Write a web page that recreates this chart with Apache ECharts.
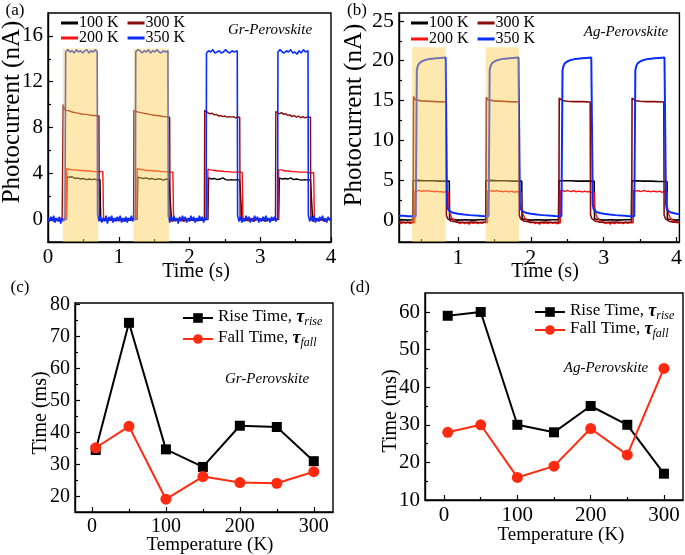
<!DOCTYPE html>
<html><head><meta charset="utf-8">
<script src="https://cdn.jsdelivr.net/npm/echarts@6/dist/echarts.min.js"></script>
<style>html,body{margin:0;padding:0;background:#fff}#c{width:685px;height:555px}</style>
</head><body><div id="c"></div>
<script>
// ---------- DATA ----------
// Panel (c): Gr-Perovskite rise / fall times
const tempsC = [5, 50, 100, 150, 200, 250, 300];
const riseC  = [34.5, 74.3, 34.7, 29.2, 42.1, 41.7, 31.0];
const fallC  = [35.2, 41.9, 19.1, 26.2, 24.3, 24.1, 27.7];
// Panel (d): Ag-Perovskite rise / fall times
const tempsD = [5, 50, 100, 150, 200, 250, 300];
const riseD  = [59, 60, 30, 28, 35, 30, 17];
const fallD  = [28, 30, 16, 19, 29, 22, 45];

// tick labels
const ticksAx = [0, 1, 2, 3, 4], minorAx = [0.5, 1.5, 2.5, 3.5];
const ticksAy = [0, 4, 8, 12, 16], minorAy = [2, 6, 10, 14];
const ticksBx = [1, 2, 3, 4], minorBx = [0.5, 1.5, 2.5, 3.5];
const ticksBy = [0, 5, 10, 15, 20, 25], minorBy = [2.5, 7.5, 12.5, 17.5, 22.5];
const ticksCx = [0, 100, 200, 300], minorCx = [50, 150, 250];
const ticksCy = [20, 30, 40, 50, 60, 70, 80], minorCy = [25, 35, 45, 55, 65, 75];
const ticksDx = [0, 100, 200, 300], minorDx = [50, 150, 250];
const ticksDy = [10, 20, 30, 40, 50, 60], minorDy = [15, 25, 35, 45, 55];

// light-on (shaded) windows [start, end, yBottom, yTop]
const shadeA = [[0.21, 0.71, -2, 14.9], [1.21, 1.71, -2, 14.9]];
const shadeB = [[0.37, 0.83, -2.8, 21.7], [1.38, 1.84, -2.8, 21.7]];

// Panel (a) photocurrent traces [time s, current nA]
const a100 = [
[0.00,0.0],[0.05,-0.1],[0.10,0.05],[0.15,-0.1],[0.20,0.0],[0.26,-0.05],
[0.27,3.7],[0.30,3.65],[0.34,3.7],[0.38,3.55],[0.42,3.6],[0.46,3.5],[0.50,3.55],[0.54,3.45],[0.58,3.5],[0.62,3.45],[0.66,3.5],[0.70,3.4],[0.735,3.45],
[0.745,0.0],[0.80,-0.1],[0.85,0.0],[0.90,-0.1],[0.95,0.05],[1.00,-0.05],[1.05,-0.1],[1.10,0.0],[1.15,-0.1],[1.20,0.0],[1.26,-0.05],
[1.27,3.65],[1.31,3.6],[1.35,3.55],[1.39,3.6],[1.43,3.5],[1.47,3.55],[1.51,3.45],[1.55,3.5],[1.59,3.5],[1.63,3.4],[1.67,3.5],[1.71,3.45],[1.735,3.45],
[1.745,0.0],[1.80,-0.1],[1.85,0.0],[1.90,-0.05],[1.95,-0.1],[2.00,0.0],[2.05,-0.1],[2.10,0.0],[2.15,-0.1],[2.20,0.0],[2.26,-0.05],
[2.27,3.6],[2.31,3.5],[2.35,3.55],[2.39,3.45],[2.43,3.5],[2.47,3.6],[2.51,3.45],[2.55,3.4],[2.59,3.45],[2.63,3.4],[2.67,3.45],[2.71,3.4],[2.73,3.4],
[2.74,0.0],[2.80,-0.1],[2.85,0.0],[2.90,-0.1],[2.95,0.0],[3.00,-0.05],[3.05,-0.1],[3.10,0.0],[3.15,-0.1],[3.20,0.0],[3.26,-0.05],
[3.27,3.6],[3.31,3.5],[3.35,3.55],[3.39,3.5],[3.43,3.6],[3.47,3.45],[3.51,3.5],[3.55,3.45],[3.59,3.4],[3.63,3.45],[3.67,3.4],[3.71,3.45],[3.73,3.4],
[3.74,0.0],[3.80,-0.1],[3.85,0.0],[3.90,-0.1],[3.95,0.0],[4.00,-0.05]];
const a200 = [
[0.00,0.0],[0.06,0.1],[0.12,-0.05],[0.18,0.05],[0.26,0.0],
[0.265,4.4],[0.30,4.35],[0.35,4.3],[0.40,4.3],[0.45,4.25],[0.50,4.25],[0.55,4.2],[0.60,4.2],[0.65,4.15],[0.70,4.15],[0.775,4.15],
[0.785,0.1],[0.82,-0.05],[0.88,0.05],[0.94,-0.05],[1.00,0.05],[1.06,0.0],[1.12,0.05],[1.18,-0.05],[1.255,0.0],
[1.26,4.4],[1.30,4.35],[1.35,4.3],[1.40,4.25],[1.45,4.25],[1.50,4.2],[1.55,4.2],[1.60,4.15],[1.65,4.15],[1.70,4.1],[1.765,4.1],
[1.775,0.1],[1.82,-0.05],[1.88,0.05],[1.94,-0.05],[2.00,0.05],[2.06,0.0],[2.12,0.05],[2.18,-0.05],[2.255,0.0],
[2.26,4.35],[2.30,4.3],[2.35,4.25],[2.40,4.2],[2.45,4.2],[2.50,4.15],[2.55,4.15],[2.60,4.1],[2.65,4.1],[2.70,4.1],[2.745,4.1],
[2.755,0.1],[2.80,-0.05],[2.86,0.05],[2.92,-0.05],[2.98,0.05],[3.04,0.0],[3.10,0.05],[3.16,-0.05],[3.255,0.0],
[3.26,4.3],[3.30,4.3],[3.35,4.2],[3.40,4.2],[3.45,4.15],[3.50,4.15],[3.55,4.1],[3.60,4.1],[3.65,4.1],[3.70,4.05],[3.755,4.05],
[3.765,0.1],[3.80,-0.05],[3.86,0.05],[3.92,-0.05],[4.00,0.0]];
const a300 = [
[0.00,-0.1],[0.04,0.1],[0.08,-0.2],[0.12,0.0],[0.16,-0.15],[0.20,0.05],[0.21,-0.1],
[0.215,10.0],[0.23,9.6],[0.26,9.5],[0.30,9.45],[0.34,9.35],[0.38,9.3],[0.42,9.25],[0.46,9.2],[0.50,9.15],[0.54,9.15],[0.58,9.1],[0.62,9.05],[0.66,9.05],[0.72,9.0],
[0.725,0.0],[0.76,-0.2],[0.80,0.0],[0.84,-0.15],[0.88,-0.05],[0.92,-0.2],[0.96,0.0],[1.00,-0.15],[1.04,-0.05],[1.08,-0.2],[1.12,0.0],[1.16,-0.1],[1.21,-0.05],
[1.215,9.5],[1.23,9.4],[1.27,9.35],[1.31,9.3],[1.35,9.25],[1.39,9.2],[1.43,9.15],[1.47,9.1],[1.51,9.05],[1.55,9.05],[1.59,9.0],[1.63,8.95],[1.67,8.95],[1.72,8.9],
[1.725,0.0],[1.76,-0.2],[1.80,0.0],[1.84,-0.15],[1.88,-0.05],[1.92,-0.2],[1.96,0.0],[2.00,-0.15],[2.04,-0.05],[2.08,-0.2],[2.12,0.0],[2.16,-0.1],[2.21,-0.05],
[2.215,9.5],[2.23,9.35],[2.26,9.3],[2.29,9.2],[2.32,9.25],[2.35,9.1],[2.38,9.15],[2.41,9.0],[2.44,9.05],[2.47,8.95],[2.50,9.0],[2.53,8.9],[2.56,8.95],[2.59,8.9],[2.62,8.95],[2.65,8.85],[2.68,8.9],[2.71,8.9],
[2.715,0.0],[2.75,-0.2],[2.79,0.0],[2.83,-0.15],[2.87,-0.05],[2.91,-0.2],[2.95,0.0],[2.99,-0.15],[3.03,-0.05],[3.07,-0.2],[3.11,0.0],[3.15,-0.1],[3.215,-0.05],
[3.22,9.4],[3.24,9.3],[3.27,9.2],[3.30,9.3],[3.33,9.15],[3.36,9.2],[3.39,9.05],[3.42,9.1],[3.45,8.95],[3.48,9.05],[3.51,8.9],[3.54,9.0],[3.57,8.85],[3.60,8.95],[3.63,8.85],[3.66,8.9],[3.71,8.9],
[3.715,0.0],[3.75,-0.2],[3.79,0.0],[3.83,-0.15],[3.87,-0.05],[3.91,-0.2],[3.95,0.0],[4.00,-0.1]];
const a350 = [
[0.00,0.1],[0.02,-0.2],[0.04,0.2],[0.06,-0.1],[0.08,0.3],[0.10,-0.3],[0.12,0.1],[0.14,-0.2],[0.16,0.2],[0.18,-0.4],[0.20,0.1],[0.22,-0.2],[0.24,0.2],
[0.25,14.6],[0.28,14.8],[0.31,14.6],[0.34,14.7],[0.37,14.5],[0.40,14.8],[0.43,14.6],[0.46,14.7],[0.49,14.5],[0.52,14.7],[0.55,14.8],[0.58,14.5],[0.61,14.7],[0.64,14.6],[0.67,14.8],[0.695,14.6],
[0.70,0.4],[0.72,-0.2],[0.74,0.3],[0.76,-0.3],[0.78,0.1],[0.80,-0.2],[0.82,0.3],[0.84,-0.4],[0.86,0.2],[0.88,-0.1],[0.90,0.3],[0.92,-0.3],[0.94,0.1],[0.96,-0.2],[0.98,0.2],[1.00,-0.1],[1.02,0.3],[1.04,-0.3],[1.06,0.1],[1.08,-0.2],[1.10,0.2],[1.12,-0.3],[1.14,0.1],[1.16,-0.1],[1.18,0.3],[1.20,-0.2],[1.22,0.1],[1.235,-0.1],
[1.24,14.6],[1.27,14.8],[1.30,14.7],[1.33,14.5],[1.36,14.7],[1.39,14.6],[1.42,14.8],[1.45,14.5],[1.48,14.7],[1.51,14.6],[1.54,14.8],[1.57,14.6],[1.60,14.5],[1.63,14.7],[1.66,14.6],[1.695,14.7],
[1.70,0.3],[1.72,-0.3],[1.74,0.2],[1.76,-0.1],[1.78,0.3],[1.80,-0.2],[1.82,0.1],[1.84,-0.4],[1.86,0.2],[1.88,-0.2],[1.90,0.3],[1.92,-0.1],[1.94,0.2],[1.96,-0.3],[1.98,0.1],[2.00,-0.2],[2.02,0.3],[2.04,-0.1],[2.06,0.2],[2.08,-0.3],[2.10,0.1],[2.12,-0.2],[2.14,0.3],[2.16,-0.1],[2.18,0.2],[2.20,-0.3],[2.22,0.1],[2.235,-0.1],
[2.24,14.5],[2.27,14.7],[2.30,14.6],[2.33,14.8],[2.36,14.5],[2.39,14.6],[2.42,14.7],[2.45,14.5],[2.48,14.6],[2.51,14.8],[2.54,14.6],[2.57,14.5],[2.60,14.7],[2.63,14.6],[2.675,14.7],
[2.68,0.3],[2.70,-0.2],[2.72,0.2],[2.74,-0.3],[2.76,0.1],[2.78,-0.2],[2.80,0.3],[2.82,-0.1],[2.84,0.2],[2.86,-0.3],[2.88,0.1],[2.90,-0.2],[2.92,0.3],[2.94,-0.1],[2.96,0.2],[2.98,-0.3],[3.00,0.1],[3.02,-0.2],[3.04,0.2],[3.06,-0.1],[3.08,0.3],[3.10,-0.2],[3.12,0.1],[3.14,-0.3],[3.16,0.2],[3.18,-0.1],[3.20,0.2],[3.22,-0.2],[3.245,0.1],
[3.25,14.6],[3.28,14.8],[3.31,14.6],[3.34,14.5],[3.37,14.7],[3.40,14.6],[3.43,14.8],[3.46,14.5],[3.49,14.6],[3.52,14.4],[3.55,14.7],[3.58,14.5],[3.61,14.8],[3.64,14.6],[3.675,14.7],
[3.68,0.3],[3.70,-0.2],[3.72,0.2],[3.74,-0.1],[3.76,0.3],[3.78,-0.3],[3.80,0.1],[3.82,-0.2],[3.84,0.2],[3.86,-0.1],[3.88,0.3],[3.90,-0.2],[3.92,0.1],[3.94,-0.3],[3.96,0.2],[3.98,-0.1],[4.00,0.1]];

// Panel (b) photocurrent traces [time s, current nA]
const b100 = [
[0.19,-0.05],[0.25,0.0],[0.30,-0.05],[0.38,0.0],
[0.385,4.9],[0.45,4.95],[0.55,4.9],[0.65,4.9],[0.75,4.85],[0.88,4.85],
[0.885,0.1],[0.90,0.0],[1.0,-0.05],[1.1,0.0],[1.2,-0.05],[1.3,0.0],[1.38,0.0],
[1.385,4.9],[1.45,4.95],[1.55,4.9],[1.65,4.9],[1.75,4.85],[1.875,4.85],
[1.88,0.1],[1.9,0.0],[2.0,-0.05],[2.1,0.0],[2.2,-0.05],[2.3,0.0],[2.38,0.0],
[2.385,4.9],[2.45,4.9],[2.55,4.9],[2.65,4.85],[2.75,4.85],[2.87,4.85],
[2.875,0.1],[2.9,0.0],[3.0,-0.05],[3.1,0.0],[3.2,-0.05],[3.3,0.0],[3.38,0.0],
[3.385,4.85],[3.45,4.9],[3.55,4.85],[3.65,4.85],[3.75,4.8],[3.87,4.8],
[3.875,0.1],[3.9,0.0],[4.0,-0.05],[4.04,0.0]];
const b200 = [
[0.19,-0.3],[0.22,-0.5],[0.25,-0.3],[0.28,-0.45],[0.31,-0.25],[0.34,-0.5],[0.37,-0.35],[0.405,-0.4],
[0.41,3.7],[0.44,3.6],[0.47,3.7],[0.50,3.55],[0.53,3.65],[0.56,3.6],[0.59,3.7],[0.62,3.55],[0.65,3.6],[0.68,3.5],[0.71,3.6],[0.74,3.5],[0.77,3.55],[0.80,3.45],[0.83,3.55],[0.87,3.5],
[0.875,1.6],[0.89,0.8],[0.91,0.3],[0.94,0.0],[0.97,-0.2],[1.00,-0.35],[1.03,-0.5],[1.06,-0.3],[1.09,-0.5],[1.12,-0.35],[1.15,-0.55],[1.18,-0.3],[1.21,-0.45],[1.24,-0.3],[1.27,-0.5],[1.30,-0.35],[1.33,-0.45],[1.36,-0.3],[1.405,-0.4],
[1.41,3.7],[1.44,3.6],[1.47,3.65],[1.50,3.55],[1.53,3.7],[1.56,3.55],[1.59,3.6],[1.62,3.5],[1.65,3.6],[1.68,3.55],[1.71,3.5],[1.74,3.6],[1.77,3.45],[1.80,3.55],[1.83,3.5],[1.87,3.5],
[1.875,1.6],[1.89,0.8],[1.91,0.3],[1.94,0.0],[1.97,-0.2],[2.00,-0.4],[2.03,-0.3],[2.06,-0.5],[2.09,-0.35],[2.12,-0.55],[2.15,-0.3],[2.18,-0.45],[2.21,-0.35],[2.24,-0.5],[2.27,-0.3],[2.30,-0.45],[2.33,-0.35],[2.36,-0.5],[2.405,-0.4],
[2.41,3.7],[2.44,3.65],[2.47,3.55],[2.50,3.7],[2.53,3.6],[2.56,3.55],[2.59,3.65],[2.62,3.5],[2.65,3.6],[2.68,3.55],[2.71,3.5],[2.74,3.6],[2.77,3.5],[2.80,3.55],[2.83,3.45],[2.87,3.5],
[2.875,1.6],[2.89,0.8],[2.91,0.3],[2.94,0.0],[2.97,-0.2],[3.00,-0.35],[3.03,-0.5],[3.06,-0.3],[3.09,-0.55],[3.12,-0.35],[3.15,-0.5],[3.18,-0.3],[3.21,-0.45],[3.24,-0.35],[3.27,-0.5],[3.30,-0.3],[3.33,-0.45],[3.36,-0.35],[3.405,-0.4],
[3.41,3.7],[3.44,3.6],[3.47,3.65],[3.50,3.55],[3.53,3.6],[3.56,3.7],[3.59,3.55],[3.62,3.6],[3.65,3.5],[3.68,3.6],[3.71,3.55],[3.74,3.5],[3.77,3.6],[3.80,3.45],[3.83,3.55],[3.87,3.5],
[3.875,1.6],[3.89,0.8],[3.91,0.3],[3.94,0.0],[3.97,-0.2],[4.00,-0.35],[4.04,-0.4]];
const b300 = [
[0.19,-0.3],[0.30,-0.35],[0.385,-0.3],
[0.39,15.5],[0.41,15.1],[0.43,15.0],[0.50,14.95],[0.60,14.9],[0.70,14.85],[0.835,14.8],
[0.84,0.6],[0.86,0.1],[0.90,-0.15],[1.00,-0.3],[1.10,-0.35],[1.20,-0.3],[1.30,-0.35],[1.385,-0.3],
[1.39,15.4],[1.41,15.1],[1.43,15.0],[1.50,14.95],[1.60,14.9],[1.70,14.85],[1.835,14.8],
[1.84,0.6],[1.86,0.1],[1.90,-0.15],[2.00,-0.3],[2.10,-0.35],[2.20,-0.3],[2.30,-0.35],[2.385,-0.3],
[2.39,15.3],[2.41,15.05],[2.43,15.0],[2.50,14.9],[2.60,14.85],[2.70,14.85],[2.815,14.8],
[2.82,0.6],[2.84,0.1],[2.88,-0.15],[2.95,-0.3],[3.05,-0.35],[3.15,-0.3],[3.25,-0.35],[3.385,-0.3],
[3.39,15.3],[3.41,15.05],[3.43,15.0],[3.50,14.9],[3.60,14.85],[3.70,14.85],[3.825,14.8],
[3.83,0.6],[3.85,0.1],[3.89,-0.15],[3.95,-0.3],[4.04,-0.3]];
const b350 = [
[0.19,0.5],[0.25,0.5],[0.32,0.45],[0.42,0.45],
[0.435,18.8],[0.45,19.4],[0.47,19.7],[0.50,19.9],[0.55,20.1],[0.60,20.2],[0.65,20.25],[0.70,20.3],[0.76,20.35],[0.83,20.4],
[0.85,2.0],[0.86,1.4],[0.88,1.1],[0.91,0.95],[0.95,0.85],[1.00,0.75],[1.08,0.65],[1.16,0.58],[1.25,0.52],[1.33,0.48],[1.42,0.45],
[1.435,18.8],[1.45,19.4],[1.47,19.7],[1.50,19.9],[1.55,20.1],[1.60,20.2],[1.65,20.25],[1.70,20.3],[1.76,20.35],[1.83,20.4],
[1.85,2.0],[1.86,1.4],[1.88,1.1],[1.91,0.95],[1.95,0.85],[2.00,0.75],[2.08,0.65],[2.16,0.58],[2.25,0.52],[2.33,0.48],[2.42,0.45],
[2.435,18.8],[2.45,19.4],[2.47,19.7],[2.50,19.9],[2.55,20.1],[2.60,20.2],[2.65,20.25],[2.70,20.3],[2.76,20.35],[2.83,20.4],
[2.85,2.0],[2.86,1.4],[2.88,1.1],[2.91,0.95],[2.95,0.85],[3.00,0.75],[3.08,0.65],[3.16,0.58],[3.25,0.52],[3.33,0.48],[3.42,0.45],
[3.435,18.8],[3.45,19.4],[3.47,19.7],[3.50,19.9],[3.55,20.1],[3.60,20.2],[3.65,20.25],[3.70,20.3],[3.76,20.35],[3.835,20.4],
[3.855,2.0],[3.865,1.4],[3.885,1.1],[3.915,0.95],[3.955,0.85],[4.00,0.75],[4.04,0.7]];

// ---------- CHART ----------
const FF = '"Liberation Serif","Times New Roman",serif';
const chart = echarts.init(document.getElementById('c'), null, {renderer: 'canvas'});

const grids = [
  {left: 48, top: 13, width: 283, height: 229},
  {left: 399, top: 13, width: 284, height: 229},
  {left: 75, top: 303, width: 258, height: 209},
  {left: 425, top: 293, width: 258, height: 207}
].map(g => Object.assign(g, {show: true, borderColor: '#000', borderWidth: 1.4, backgroundColor: 'transparent', containLabel: false}));

const xAxes = [], yAxes = [];
function addAxes(list, gi, min, max, major, minor, fs, isY) {
  const base = {type: 'value', gridIndex: gi, min: min, max: max, splitLine: {show: false}};
  if (isY) base.position = 'left'; else base.position = 'bottom';
  list.push(Object.assign({}, base, {
    axisLine: {show: true, onZero: false, lineStyle: {color: '#000', width: 1.4}},
    axisTick: {show: true, inside: true, length: 5, customValues: major, lineStyle: {color: '#000', width: 1.2}},
    axisLabel: {show: true, customValues: major, color: '#000', fontFamily: FF, fontSize: fs, margin: isY ? 5 : 5}
  }));
  const idx = list.length - 1;
  list.push(Object.assign({}, base, {
    axisLine: {show: false, onZero: false},
    axisTick: {show: true, inside: true, length: 3, customValues: minor, lineStyle: {color: '#000', width: 1.2}},
    axisLabel: {show: false}
  }));
  return idx;
}
const xA = addAxes(xAxes, 0, 0, 4, ticksAx, minorAx, 21, false);
const yA = addAxes(yAxes, 0, -2, 18, ticksAy, minorAy, 21, true);
const xB = addAxes(xAxes, 1, 0.19, 4.04, ticksBx, minorBx, 22, false);
const yB = addAxes(yAxes, 1, -2.8, 26, ticksBy, minorBy, 22, true);
const xC = addAxes(xAxes, 2, -23, 326, ticksCx, minorCx, 20, false);
const yC = addAxes(yAxes, 2, 15.1, 80.5, ticksCy, minorCy, 20, true);
const xD = addAxes(xAxes, 3, -26, 326, ticksDx, minorDx, 21, false);
const yD = addAxes(yAxes, 3, 10, 65.05, ticksDy, minorDy, 21, true);

const COL = {k: '#000000', r: '#FF1010', dr: '#8B0A0A', b: '#0A2DFF'};
function trace(name, data, xi, yi, color, w) {
  return {type: 'line', name: name, data: data, xAxisIndex: xi, yAxisIndex: yi, showSymbol: false, symbol: 'none',
    lineStyle: {color: color, width: w}, itemStyle: {color: color}, z: 2, animation: false, silent: true};
}
function shade(data, xi, yi) {
  return {type: 'custom', data: data, xAxisIndex: xi, yAxisIndex: yi, z: 5, silent: true, animation: false,
    encode: {x: [0, 1], y: [2, 3]},
    renderItem: function (params, api) {
      const p0 = api.coord([api.value(0), api.value(3)]);
      const p1 = api.coord([api.value(1), api.value(2)]);
      return {type: 'rect', shape: {x: p0[0], y: p0[1], width: p1[0] - p0[0], height: p1[1] - p0[1]},
        style: {fill: 'rgba(250,205,80,0.45)'}};
    }};
}
function timeSeries(name, x, y, xi, yi, color, sym, size) {
  const d = x.map((v, i) => [v, y[i]]);
  return {type: 'line', name: name, data: d, xAxisIndex: xi, yAxisIndex: yi, symbol: sym, symbolSize: size,
    showSymbol: true, lineStyle: {color: color, width: 2}, itemStyle: {color: color}, animation: false, z: 3};
}

const series = [
  trace('100 K', a100, xA, yA, COL.k, 1.4),
  trace('200 K', a200, xA, yA, COL.r, 1.4),
  trace('300 K', a300, xA, yA, COL.dr, 1.4),
  trace('350 K', a350, xA, yA, COL.b, 1.6),
  shade(shadeA, xA, yA),
  trace('100 K', b100, xB, yB, COL.k, 1.6),
  trace('200 K', b200, xB, yB, COL.r, 1.4),
  trace('300 K', b300, xB, yB, COL.dr, 1.6),
  trace('350 K', b350, xB, yB, COL.b, 2),
  shade(shadeB, xB, yB),
  timeSeries('Rise', tempsC, riseC, xC, yC, '#000', 'rect', 10),
  timeSeries('Fall', tempsC, fallC, xC, yC, '#FF2A10', 'circle', 11),
  timeSeries('Rise', tempsD, riseD, xD, yD, '#000', 'rect', 10),
  timeSeries('Fall', tempsD, fallD, xD, yD, '#FF2A10', 'circle', 11)
];

function lgTemp(left, top, names) {
  return {left: left, top: top, orient: 'horizontal', icon: 'rect', itemWidth: 17, itemHeight: 3, itemGap: 9,
    data: names, selectedMode: false, padding: 0,
    textStyle: {fontFamily: FF, fontSize: 16, color: '#000', padding: [0, 0, 0, -4]}};
}
const richT = {
  n: {fontFamily: FF, fontSize: 17, color: '#000', verticalAlign: 'top', lineHeight: 20},
  t: {fontFamily: FF, fontSize: 18, color: '#000', fontWeight: 'bold', fontStyle: 'italic', verticalAlign: 'top', lineHeight: 20},
  s: {fontFamily: FF, fontSize: 12, color: '#000', fontStyle: 'italic', verticalAlign: 'bottom', lineHeight: 12, padding: [10, 0, 0, 0]}
};
function lgTime(left, top, name, w) {
  return {left: left, top: top, orient: 'horizontal', itemWidth: w, itemHeight: 12, data: [name], selectedMode: false, padding: 0,
    formatter: function (nm) { return nm === 'Rise' ? '{n|Rise Time, }{t|τ}{s|rise}' : '{n|Fall Time, }{t|τ}{s|fall}'; },
    textStyle: {fontFamily: FF, fontSize: 17, color: '#000', rich: richT}};
}
const legends = [
  lgTemp(61, 15, ['100 K', '300 K']), lgTemp(61, 30, ['200 K', '350 K']),
  lgTemp(411, 15, ['100 K', '300 K']), lgTemp(411, 31, ['200 K', '350 K']),
  lgTime(182, 306, 'Rise', 30), lgTime(182, 327, 'Fall', 30),
  lgTime(534, 300, 'Rise', 30), lgTime(534, 318, 'Fall', 30)
];

function txt(t, x, y, size, opts) {
  return Object.assign({type: 'text', x: x, y: y, silent: true, z: 10,
    style: Object.assign({text: t, font: size + 'px ' + FF, fill: '#000', textAlign: 'center', textVerticalAlign: 'middle'}, (opts && opts.style) || {})},
    (opts && opts.el) || {});
}
const graphics = [
  txt('(a)', 15, 11, 17), txt('(b)', 357, 11, 17), txt('(c)', 20, 288, 17), txt('(d)', 360, 288, 17),
  txt('Gr-Perovskite', 270, 30, 15, {style: {font: 'italic 15px ' + FF}}),
  txt('Ag-Perovskite', 626, 32, 15, {style: {font: 'italic 15px ' + FF}}),
  txt('Gr-Perovskite', 267, 379, 15, {style: {font: 'italic 15px ' + FF}}),
  txt('Ag-Perovskite', 606, 368, 15, {style: {font: 'italic 15px ' + FF}}),
  txt('Time (s)', 196, 272, 20), txt('Time (s)', 545, 272, 20),
  txt('Temperature (K)', 210, 545, 19), txt('Temperature (K)', 561, 535, 19),
  txt('Photocurrent (nA)', 12, 112, 25, {el: {rotation: Math.PI / 2}}),
  txt('Photocurrent (nA)', 354, 115, 25, {el: {rotation: Math.PI / 2}}),
  txt('Time (ms)', 41, 413, 20, {el: {rotation: Math.PI / 2}}),
  txt('Time (ms)', 391, 411, 20, {el: {rotation: Math.PI / 2}})
];

chart.setOption({
  animation: false,
  backgroundColor: '#fff',
  grid: grids,
  xAxis: xAxes,
  yAxis: yAxes,
  legend: legends,
  series: series,
  graphic: graphics
});
</script>
</body></html>
